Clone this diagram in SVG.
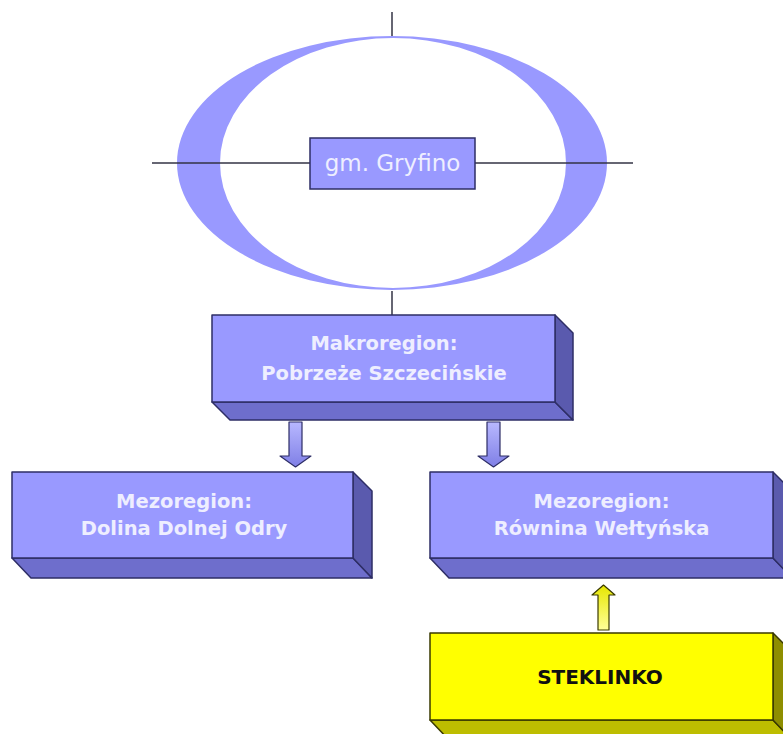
<svg xmlns="http://www.w3.org/2000/svg" width="783" height="734" viewBox="0 0 783 734">
<defs>
<style>
.front{fill:#9999FF;stroke:#2E2E66;stroke-width:1.5;stroke-linejoin:round}
.bottom{fill:#6E6ECC;stroke:#2E2E66;stroke-width:1.5;stroke-linejoin:round}
.side{fill:#5A5AAE;stroke:#2E2E66;stroke-width:1.5;stroke-linejoin:round}
.yfront{fill:#FFFF00;stroke:#3A3A00;stroke-width:1.5;stroke-linejoin:round}
.ybottom{fill:#BDBD00;stroke:#3A3A00;stroke-width:1.5;stroke-linejoin:round}
.yside{fill:#8E8E00;stroke:#3A3A00;stroke-width:1.5;stroke-linejoin:round}
.lbl{font-family:"DejaVu Sans","Liberation Sans",sans-serif;font-weight:bold;font-size:19.5px;fill:#EEEEFF;text-anchor:middle}
.line{stroke:#333344;stroke-width:1.5;fill:none}
</style>
<linearGradient id="bgrad" x1="0" y1="0" x2="0" y2="1">
<stop offset="0" stop-color="#B8B8FF"/>
<stop offset="1" stop-color="#7F7FE6"/>
</linearGradient>
<linearGradient id="ygrad" x1="0" y1="1" x2="0" y2="0">
<stop offset="0" stop-color="#FFFF99"/>
<stop offset="1" stop-color="#E6E600"/>
</linearGradient>
</defs>
<rect width="783" height="734" fill="#FFFFFF"/>

<g id="ring">
<path fill="#9999FF" fill-rule="evenodd" d="M177,163 a215,127 0 1,0 430,0 a215,127 0 1,0 -430,0 Z M220,163 a173,125 0 1,0 346,0 a173,125 0 1,0 -346,0 Z"/>
</g>

<g id="connectors">
<line class="line" x1="392" y1="12" x2="392" y2="36"/>
<line class="line" x1="392" y1="291" x2="392" y2="315"/>
<line class="line" x1="152" y1="163" x2="633" y2="163"/>
<path d="M289,422 L302,422 L302,456 L311,456 L295.5,467 L280,456 L289,456 Z" fill="url(#bgrad)" stroke="#2E2E66" stroke-width="1.2" stroke-linejoin="round"/>
<path d="M487,422 L500,422 L500,456 L509,456 L493.5,467 L478,456 L487,456 Z" fill="url(#bgrad)" stroke="#2E2E66" stroke-width="1.2" stroke-linejoin="round"/>
<path d="M598,630 L609,630 L609,595 L615,595 L603.5,585 L592,595 L598,595 Z" fill="url(#ygrad)" stroke="#3A3A00" stroke-width="1.2" stroke-linejoin="round"/>
</g>

<g id="gryfino">
<rect x="310" y="138" width="165" height="51" fill="#9999FF" stroke="#2E2E66" stroke-width="1.5"/>
<text x="392.5" y="171" font-family="'DejaVu Sans','Liberation Sans',sans-serif" font-size="23" fill="#EEEEFF" text-anchor="middle">gm. Gryfino</text>
</g>

<g id="makroregion">
<path class="bottom" d="M212,402 L555,402 L573,420 L230,420 Z"/>
<path class="side" d="M555,315 L573,333 L573,420 L555,402 Z"/>
<rect class="front" x="212" y="315" width="343" height="87"/>
<text class="lbl" x="384" y="350">Makroregion:</text>
<text class="lbl" x="384" y="380">Pobrzeże Szczecińskie</text>
</g>

<g id="mezo-dolina">
<path class="bottom" d="M12,558 L353,558 L372,578 L31,578 Z"/>
<path class="side" d="M353,472 L372,491 L372,578 L353,558 Z"/>
<rect class="front" x="12" y="472" width="341" height="86"/>
<text class="lbl" x="184" y="508">Mezoregion:</text>
<text class="lbl" x="184" y="535">Dolina Dolnej Odry</text>
</g>

<g id="mezo-rownina">
<path class="bottom" d="M430,558 L773,558 L792,578 L449,578 Z"/>
<path class="side" d="M773,472 L792,491 L792,578 L773,558 Z"/>
<rect class="front" x="430" y="472" width="343" height="86"/>
<text class="lbl" x="601.5" y="508">Mezoregion:</text>
<text class="lbl" x="601.5" y="535">Równina Wełtyńska</text>
</g>

<g id="steklinko">
<path class="ybottom" d="M430,720 L773,720 L792,740 L449,740 Z"/>
<path class="yside" d="M773,633 L792,652 L792,740 L773,720 Z"/>
<rect class="yfront" x="430" y="633" width="343" height="87"/>
<text x="600" y="684" font-family="'DejaVu Sans','Liberation Sans',sans-serif" font-weight="bold" font-size="20" fill="#111111" text-anchor="middle">STEKLINKO</text>
</g>
</svg>
